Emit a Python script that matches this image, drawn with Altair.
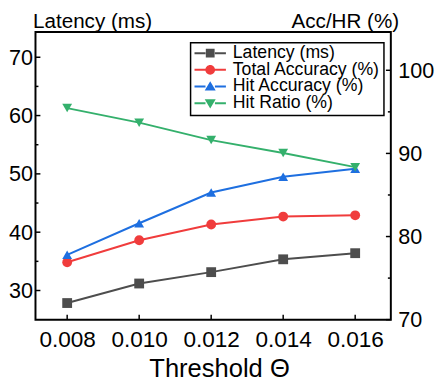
import altair as alt
import pandas as pd

# ---- data ----
thresholds = [0.008, 0.010, 0.012, 0.014, 0.016]
latency = [27.85, 31.2, 33.15, 35.35, 36.4]
total_acc = [76.9, 79.55, 81.45, 82.4, 82.55]
hit_acc = [77.8, 81.6, 85.3, 87.2, 88.15]
hit_ratio = [95.45, 93.7, 91.6, 90.05, 88.35]

series_names = ["Latency (ms)", "Total Accuracy (%)", "Hit Accuracy (%)", "Hit Ratio (%)"]
series_colors = ["#4d4d4d", "#f03c3c", "#1e6fe0", "#34b06c"]

left_major = [30, 40, 50, 60, 70]
left_minor = [35, 45, 55, 65]
right_major = [70, 80, 90, 100]
right_minor = [75, 85, 95]

# legend symbols (unit = 8px): a line stub from -1 to 3 with the marker centred at 1
stub = "M-1,-0.125H0.4V0.125H-1Z M1.6,-0.125H3V0.125H1.6Z"
legend_paths = [
    stub + " M0.44,-0.56H1.56V0.56H0.44Z",
    stub + " M0.38,0A0.62,0.62,0,1,1,1.62,0A0.62,0.62,0,1,1,0.38,0Z",
    stub + " M1,-0.66L1.7,0.52H0.3Z",
    stub + " M1,0.66L1.7,-0.52H0.3Z",
]

W, H = 362, 293
FONT = "Liberation Sans"

df = pd.DataFrame({"t": thresholds, "latency": latency, "total": total_acc,
                   "hit": hit_acc, "ratio": hit_ratio})

xscale = alt.Scale(domain=[0.00712, 0.01699], nice=False, zero=False)
lscale = alt.Scale(domain=[25, 74.32], nice=False, zero=False)
rscale = alt.Scale(domain=[70, 104.6], nice=False, zero=False)

xaxis = alt.Axis(values=thresholds, format=".3f", title="Threshold Θ",
                 labelFontSize=23, labelPadding=9, ticks=False, tickSize=0,
                 domain=False, grid=False, labelFlush=False,
                 titleFontSize=26, titleFontWeight="normal", titleX=187, titleY=58,
                 titleBaseline="alphabetic", titleAlign="center",
                 labelFont=FONT, titleFont=FONT, labelColor="black", titleColor="black")


def y_axis(orient, title, values, title_x, align, pad):
    return alt.Axis(orient=orient, title=title, values=values, ticks=False, tickSize=0,
                    domain=False, grid=False, labelFontSize=22, labelPadding=pad,
                    labelFont=FONT, titleFont=FONT, titleFontSize=21,
                    titleFontWeight="normal", titleAngle=0, titleX=title_x, titleY=-5,
                    titleAlign=align, titleBaseline="alphabetic",
                    labelColor="black", titleColor="black")


laxis = y_axis("left", "Latency (ms)", left_major, -3, "left", 3)
raxis = y_axis("right", "Acc/HR (%)", right_major, 8, "right", 7)

base = alt.Chart(df)


def series(field, color, shape, scale, axis):
    x = alt.X("t:Q", scale=xscale, axis=xaxis)
    y = alt.Y(f"{field}:Q", scale=scale, axis=axis)
    line = base.mark_line(color=color, strokeWidth=2).encode(x=x, y=y)
    pts = base.mark_point(shape=shape, filled=True, size=100, color=color,
                          opacity=1).encode(x=x, y=y)
    return [line, pts]


def yticks(values, scale, axis, x0, x1):
    d = pd.DataFrame({"v": values})
    return alt.Chart(d).mark_rule(color="black", strokeWidth=1.5).encode(
        y=alt.Y("v:Q", scale=scale, axis=axis), x=alt.value(x0), x2=alt.value(x1))


xt = alt.Chart(pd.DataFrame({"v": thresholds})).mark_rule(color="black", strokeWidth=1.5).encode(
    x=alt.X("v:Q", scale=xscale, axis=xaxis), y=alt.value(H), y2=alt.value(H - 5))

left = alt.layer(
    *series("latency", series_colors[0], "square", lscale, laxis),
    yticks(left_major, lscale, laxis, 0, 5),
    yticks(left_minor, lscale, laxis, 0, 3),
    xt,
)

leg = alt.Legend(title=None, orient="none", legendX=158, legendY=11, symbolSize=256,
                 labelFontSize=18, labelFont=FONT, labelColor="black", labelOffset=22,
                 padding=3, rowPadding=-4, clipHeight=15, strokeColor="black",
                 fillColor="white", symbolStrokeWidth=0, symbolOpacity=1)

legend_layer = alt.Chart(pd.DataFrame({"series": series_names})).transform_filter(
    "false").mark_point(filled=True, opacity=1).encode(
    color=alt.Color("series:N", scale=alt.Scale(domain=series_names, range=series_colors),
                    legend=leg),
    shape=alt.Shape("series:N", scale=alt.Scale(domain=series_names, range=legend_paths),
                    legend=leg),
)

right = alt.layer(
    *series("total", series_colors[1], "circle", rscale, raxis),
    *series("hit", series_colors[2], "triangle-up", rscale, raxis),
    *series("ratio", series_colors[3], "triangle-down", rscale, raxis),
    yticks(right_major, rscale, raxis, W - 5, W),
    yticks(right_minor, rscale, raxis, W - 3, W),
    legend_layer,
)

chart = alt.layer(left, right).resolve_scale(y="independent").properties(
    width=W, height=H,
    autosize=alt.AutoSizeParams(type="none"),
    padding={"left": 28, "top": 21, "right": 45, "bottom": 60},
    background="white",
).configure_view(stroke="black", strokeWidth=2).configure_legend(strokeWidth=1.5)

chart.save("out.html", embed_options={"renderer": "svg", "actions": False})
